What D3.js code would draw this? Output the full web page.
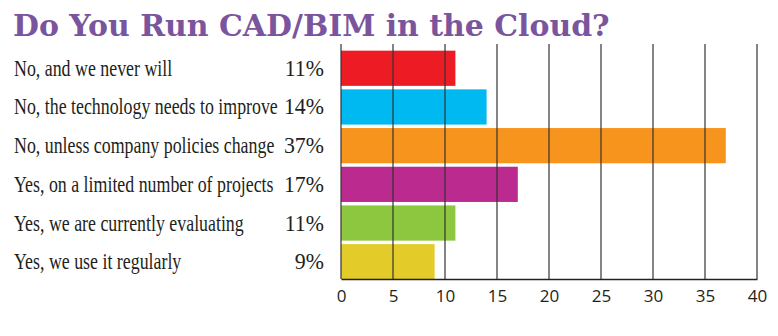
<!DOCTYPE html>
<html><head><meta charset="utf-8">
<script src="https://cdn.jsdelivr.net/npm/d3@7"></script>
<style>body{margin:0;background:#fff}svg{display:block}</style>
</head><body>
<svg id="c" width="778" height="336"></svg>
<script>
const title = "Do You Run CAD/BIM in the Cloud?";
const categories = [
  "No, and we never will",
  "No, the technology needs to improve",
  "No, unless company policies change",
  "Yes, on a limited number of projects",
  "Yes, we are currently evaluating",
  "Yes, we use it regularly"
];
const values = [11, 14, 37, 17, 11, 9];
const colors = ["#ED1C24", "#00B9F1", "#F7941D", "#BA2A8F", "#8DC63F", "#E3CB29"];
const ticks = [0, 5, 10, 15, 20, 25, 30, 35, 40];

const svg = d3.select("#c");
const x = d3.scaleLinear().domain([0, 40]).range([341, 757]);
const y = d3.scaleBand().domain(categories).range([49.5, 280.5]).paddingInner(0.09).paddingOuter(0.03);

// Title
const t = svg.append("text").attr("x", 13).attr("y", 36)
  .attr("font-family", "DejaVu Serif").attr("font-weight", "bold")
  .attr("font-size", 34).attr("fill", "#7A559E").text(title);
const tw = t.node().getComputedTextLength();
t.attr("font-size", 34 * 597 / tw);

// Bars
svg.append("g").selectAll("rect").data(values).join("rect")
  .attr("x", x(0)).attr("y", (d, i) => y(categories[i]))
  .attr("width", d => x(d) - x(0)).attr("height", y.bandwidth())
  .attr("fill", (d, i) => colors[i]);

// Gridlines (over bars)
svg.append("g").selectAll("line").data(ticks).join("line")
  .attr("x1", d => x(d)).attr("x2", d => x(d))
  .attr("y1", 44).attr("y2", 279)
  .attr("stroke", "#333").attr("stroke-width", 1.2);

// Axis
const axis = svg.append("g").attr("transform", "translate(0,279)")
  .call(d3.axisBottom(x).tickValues(ticks).tickSize(0).tickPadding(11).tickFormat(d3.format("d")));
axis.select(".domain").attr("stroke", "#222").attr("stroke-width", 1.5);
axis.selectAll("text").attr("font-family", "Open Sans").attr("font-size", 17).attr("fill", "#231F20");

// Category labels (condensed serif)
const FS = 23.5;
const labels = svg.append("g").selectAll("text").data(categories).join("text")
  .attr("font-family", "Liberation Serif").attr("font-size", FS)
  .attr("fill", "#231F20").text(d => d);
const maxW = d3.max(labels.nodes(), n => n.getComputedTextLength());
const sx = 264 / maxW;
labels.attr("transform", d => `translate(14,${y(d) + y.bandwidth() / 2 + 7.5}) scale(${sx},1)`);

// Percent labels
svg.append("g").selectAll("text").data(values).join("text")
  .attr("transform", (d, i) => `translate(324,${y(categories[i]) + y.bandwidth() / 2 + 7.5}) scale(0.93,1)`)
  .attr("text-anchor", "end")
  .attr("font-family", "Liberation Serif").attr("font-size", FS)
  .attr("fill", "#231F20").text(d => d + "%");
</script>
</body></html>
